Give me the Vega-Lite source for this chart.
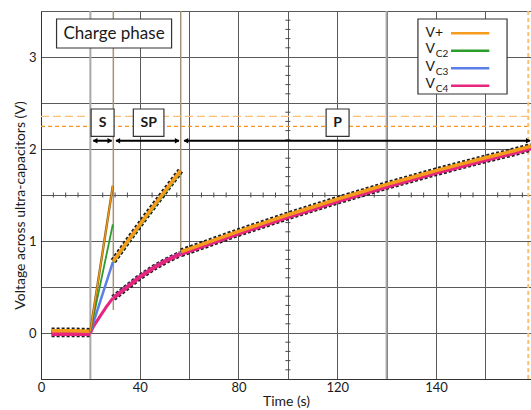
{
  "$schema": "https://vega.github.io/schema/vega-lite/v6.json",
  "width": 490,
  "height": 368,
  "autosize": {"type": "none"},
  "padding": {"left": 41, "top": 11, "right": 0, "bottom": 31},
  "background": "white",
  "config": {
    "view": {"stroke": null},
    "font": "Lato",
    "axis": {
      "labelFont": "Lato", "labelFontSize": 13, "labelColor": "#1a1a1a",
      "titleFont": "Lato", "titleFontSize": 14, "titleFontWeight": "normal", "titleColor": "#1a1a1a",
      "ticks": false, "domainColor": "#333333", "gridColor": "#5a5a5a", "gridOpacity": 1, "gridWidth": 1,
      "labelOverlap": false, "labelFlush": false
    }
  },
  "datasets": {
    "trace": [
      {"s": "V+", "ph": "pre", "t": 4.3, "v": 0.025}, {"s": "V+", "ph": "pre", "t": 12, "v": 0.025}, {"s": "V+", "ph": "pre", "t": 20, "v": 0.02},
      {"s": "VC2", "ph": "pre", "t": 4.3, "v": 0.015}, {"s": "VC2", "ph": "pre", "t": 20, "v": 0.012},
      {"s": "VC3", "ph": "pre", "t": 4.3, "v": 0.005}, {"s": "VC3", "ph": "pre", "t": 20, "v": 0.005},
      {"s": "VC4", "ph": "pre", "t": 4.3, "v": -0.012}, {"s": "VC4", "ph": "pre", "t": 12, "v": -0.012}, {"s": "VC4", "ph": "pre", "t": 20, "v": -0.01},

      {"s": "V+", "ph": "S", "t": 20, "v": 0.02}, {"s": "V+", "ph": "S", "t": 29.1, "v": 1.6},
      {"s": "VC2", "ph": "S", "t": 20, "v": 0.015}, {"s": "VC2", "ph": "S", "t": 29.1, "v": 1.18},
      {"s": "VC3", "ph": "S", "t": 20, "v": 0.01}, {"s": "VC3", "ph": "S", "t": 29.1, "v": 0.77},
      {"s": "VC4", "ph": "S", "t": 20, "v": 0.0}, {"s": "VC4", "ph": "S", "t": 21.2, "v": 0.07}, {"s": "VC4", "ph": "S", "t": 23.9, "v": 0.18}, {"s": "VC4", "ph": "S", "t": 26.6, "v": 0.29}, {"s": "VC4", "ph": "S", "t": 29.1, "v": 0.38},

      {"s": "V+", "ph": "SP", "t": 29.3, "v": 0.78}, {"s": "V+", "ph": "SP", "t": 35, "v": 0.995}, {"s": "V+", "ph": "SP", "t": 42.8, "v": 1.28}, {"s": "V+", "ph": "SP", "t": 50, "v": 1.535}, {"s": "V+", "ph": "SP", "t": 56.5, "v": 1.765},
      {"s": "VC2", "ph": "SP", "t": 29.3, "v": 0.77}, {"s": "VC2", "ph": "SP", "t": 35, "v": 0.98}, {"s": "VC2", "ph": "SP", "t": 42.8, "v": 1.265}, {"s": "VC2", "ph": "SP", "t": 50, "v": 1.52}, {"s": "VC2", "ph": "SP", "t": 56.5, "v": 1.75},
      {"s": "VC3", "ph": "SP", "t": 29.3, "v": 0.39}, {"s": "VC3", "ph": "SP", "t": 33.3, "v": 0.475}, {"s": "VC3", "ph": "SP", "t": 40.1, "v": 0.62}, {"s": "VC3", "ph": "SP", "t": 46, "v": 0.725}, {"s": "VC3", "ph": "SP", "t": 51, "v": 0.8}, {"s": "VC3", "ph": "SP", "t": 56.5, "v": 0.87},
      {"s": "VC4", "ph": "SP", "t": 29.3, "v": 0.38}, {"s": "VC4", "ph": "SP", "t": 33.3, "v": 0.465}, {"s": "VC4", "ph": "SP", "t": 40.1, "v": 0.61}, {"s": "VC4", "ph": "SP", "t": 46, "v": 0.715}, {"s": "VC4", "ph": "SP", "t": 51, "v": 0.79}, {"s": "VC4", "ph": "SP", "t": 56.5, "v": 0.86},

      {"s": "V+", "ph": "P", "t": 56.8, "v": 0.885}, {"s": "V+", "ph": "P", "t": 60, "v": 0.915}, {"s": "V+", "ph": "P", "t": 70, "v": 1.01}, {"s": "V+", "ph": "P", "t": 80, "v": 1.105}, {"s": "V+", "ph": "P", "t": 90, "v": 1.195}, {"s": "V+", "ph": "P", "t": 100, "v": 1.285}, {"s": "V+", "ph": "P", "t": 110, "v": 1.37}, {"s": "V+", "ph": "P", "t": 120, "v": 1.455}, {"s": "V+", "ph": "P", "t": 130, "v": 1.535}, {"s": "V+", "ph": "P", "t": 140, "v": 1.615}, {"s": "V+", "ph": "P", "t": 150, "v": 1.69}, {"s": "V+", "ph": "P", "t": 160, "v": 1.765}, {"s": "V+", "ph": "P", "t": 170, "v": 1.835}, {"s": "V+", "ph": "P", "t": 180, "v": 1.905}, {"s": "V+", "ph": "P", "t": 190, "v": 1.97}, {"s": "V+", "ph": "P", "t": 198.5, "v": 2.03},
      {"s": "VC2", "ph": "P", "t": 56.8, "v": 0.875}, {"s": "VC2", "ph": "P", "t": 80, "v": 1.095}, {"s": "VC2", "ph": "P", "t": 100, "v": 1.275}, {"s": "VC2", "ph": "P", "t": 120, "v": 1.445}, {"s": "VC2", "ph": "P", "t": 140, "v": 1.605}, {"s": "VC2", "ph": "P", "t": 160, "v": 1.755}, {"s": "VC2", "ph": "P", "t": 180, "v": 1.895}, {"s": "VC2", "ph": "P", "t": 198.5, "v": 2.02},
      {"s": "VC3", "ph": "P", "t": 56.8, "v": 0.87}, {"s": "VC3", "ph": "P", "t": 80, "v": 1.09}, {"s": "VC3", "ph": "P", "t": 100, "v": 1.27}, {"s": "VC3", "ph": "P", "t": 120, "v": 1.44}, {"s": "VC3", "ph": "P", "t": 140, "v": 1.6}, {"s": "VC3", "ph": "P", "t": 160, "v": 1.75}, {"s": "VC3", "ph": "P", "t": 180, "v": 1.89}, {"s": "VC3", "ph": "P", "t": 198.5, "v": 2.015},
      {"s": "VC4", "ph": "P", "t": 56.8, "v": 0.86}, {"s": "VC4", "ph": "P", "t": 60, "v": 0.89}, {"s": "VC4", "ph": "P", "t": 70, "v": 0.985}, {"s": "VC4", "ph": "P", "t": 80, "v": 1.08}, {"s": "VC4", "ph": "P", "t": 90, "v": 1.17}, {"s": "VC4", "ph": "P", "t": 100, "v": 1.26}, {"s": "VC4", "ph": "P", "t": 110, "v": 1.345}, {"s": "VC4", "ph": "P", "t": 120, "v": 1.43}, {"s": "VC4", "ph": "P", "t": 130, "v": 1.51}, {"s": "VC4", "ph": "P", "t": 140, "v": 1.59}, {"s": "VC4", "ph": "P", "t": 150, "v": 1.665}, {"s": "VC4", "ph": "P", "t": 160, "v": 1.74}, {"s": "VC4", "ph": "P", "t": 170, "v": 1.81}, {"s": "VC4", "ph": "P", "t": 180, "v": 1.88}, {"s": "VC4", "ph": "P", "t": 190, "v": 1.945}, {"s": "VC4", "ph": "P", "t": 198.5, "v": 2.005}
    ],
    "vrules": [
      {"k": "gray", "t": 20, "v": -0.5, "v2": 3.5},
      {"k": "gray", "t": 140, "v": -0.5, "v2": 3.5},
      {"k": "brown", "t": 29.3, "v": 0.25, "v2": 3.5},
      {"k": "brown", "t": 56.6, "v": 0.87, "v2": 3.5}
    ],
    "hdash": [
      {"k": "light", "t": 0, "t2": 198.5, "v": 2.355},
      {"k": "dark", "t": 0, "t2": 198.5, "v": 2.247}
    ],
    "vdash": [{"t": 197.4, "v": -0.5, "v2": 3.5}],
    "xticks": [
      {"t": 5, "v": 1.5}, {"t": 10, "v": 1.5}, {"t": 15, "v": 1.5}, {"t": 25, "v": 1.5}, {"t": 30, "v": 1.5}, {"t": 35, "v": 1.5},
      {"t": 45, "v": 1.5}, {"t": 50, "v": 1.5}, {"t": 55, "v": 1.5}, {"t": 65, "v": 1.5}, {"t": 70, "v": 1.5}, {"t": 75, "v": 1.5},
      {"t": 85, "v": 1.5}, {"t": 90, "v": 1.5}, {"t": 95, "v": 1.5}, {"t": 105, "v": 1.5}, {"t": 110, "v": 1.5}, {"t": 115, "v": 1.5},
      {"t": 125, "v": 1.5}, {"t": 130, "v": 1.5}, {"t": 135, "v": 1.5}, {"t": 145, "v": 1.5}, {"t": 150, "v": 1.5}, {"t": 155, "v": 1.5},
      {"t": 165, "v": 1.5}, {"t": 170, "v": 1.5}, {"t": 175, "v": 1.5}, {"t": 185, "v": 1.5}, {"t": 190, "v": 1.5}, {"t": 195, "v": 1.5}
    ],
    "yticks": [
      {"t": 100, "v": -0.4}, {"t": 100, "v": -0.3}, {"t": 100, "v": -0.2}, {"t": 100, "v": -0.1},
      {"t": 100, "v": 0.1}, {"t": 100, "v": 0.2}, {"t": 100, "v": 0.3}, {"t": 100, "v": 0.4},
      {"t": 100, "v": 0.6}, {"t": 100, "v": 0.7}, {"t": 100, "v": 0.8}, {"t": 100, "v": 0.9},
      {"t": 100, "v": 1.1}, {"t": 100, "v": 1.2}, {"t": 100, "v": 1.3}, {"t": 100, "v": 1.4},
      {"t": 100, "v": 1.6}, {"t": 100, "v": 1.7}, {"t": 100, "v": 1.8}, {"t": 100, "v": 1.9},
      {"t": 100, "v": 2.1}, {"t": 100, "v": 2.2}, {"t": 100, "v": 2.3}, {"t": 100, "v": 2.4},
      {"t": 100, "v": 2.6}, {"t": 100, "v": 2.7}, {"t": 100, "v": 2.8}, {"t": 100, "v": 2.9},
      {"t": 100, "v": 3.1}, {"t": 100, "v": 3.2}, {"t": 100, "v": 3.3}, {"t": 100, "v": 3.4}
    ],
    "boxes": [
      {"id": "title", "t": 6.3, "t2": 52.9, "v": 3.413, "v2": 3.098},
      {"id": "S", "t": 20.3, "t2": 29.6, "v": 2.435, "v2": 2.138},
      {"id": "SP", "t": 37.4, "t2": 49.8, "v": 2.435, "v2": 2.138},
      {"id": "P", "t": 115.5, "t2": 124.8, "v": 2.435, "v2": 2.138},
      {"id": "legend", "t": 152.7, "t2": 188.8, "v": 3.413, "v2": 2.598}
    ],
    "phaselabels": [
      {"txt": "S", "t": 24.95, "v": 2.287},
      {"txt": "SP", "t": 43.6, "v": 2.287},
      {"txt": "P", "t": 120.15, "v": 2.287}
    ],
    "titlebox": [{"txt": "Charge phase", "t": 29.6, "v": 3.255}],
    "arrows": [
      {"t": 21.2, "t2": 28.6, "v": 2.09},
      {"t": 30.4, "t2": 55.9, "v": 2.09},
      {"t": 58.0, "t2": 198, "v": 2.09}
    ],
    "heads": [
      {"dir": "l", "t": 21.9, "v": 2.09}, {"dir": "r", "t": 27.9, "v": 2.09},
      {"dir": "l", "t": 31.1, "v": 2.09}, {"dir": "r", "t": 55.2, "v": 2.09},
      {"dir": "l", "t": 58.7, "v": 2.09}, {"dir": "r", "t": 197.4, "v": 2.09}
    ],
    "legendlines": [
      {"s": "V+", "t": 166.1, "t2": 181.6, "v": 3.258},
      {"s": "VC2", "t": 166.1, "t2": 181.6, "v": 3.068},
      {"s": "VC3", "t": 166.1, "t2": 181.6, "v": 2.877},
      {"s": "VC4", "t": 166.1, "t2": 181.6, "v": 2.688}
    ],
    "legendmain": [
      {"txt": "V+", "t": 155.8, "v": 3.265},
      {"txt": "V", "t": 155.8, "v": 3.087},
      {"txt": "V", "t": 155.8, "v": 2.895},
      {"txt": "V", "t": 155.8, "v": 2.707}
    ],
    "legendsub": [
      {"txt": "C2", "t": 159.9, "v": 3.029},
      {"txt": "C3", "t": 159.9, "v": 2.837},
      {"txt": "C4", "t": 159.9, "v": 2.647}
    ]
  },
  "encoding": {
    "x": {
      "field": "t", "type": "quantitative",
      "scale": {"domain": [0, 198.5], "nice": false, "zero": false},
      "axis": {
        "title": "Time (s)",
        "values": [0, 20, 40, 60, 80, 100, 120, 140, 160, 180],
        "labelExpr": "datum.value % 40 === 0 ? (datum.value === 160 ? '140' : format(datum.value, 'd')) : ''",
        "labelPadding": 2, "titlePadding": 0, "grid": true
      }
    },
    "y": {
      "field": "v", "type": "quantitative",
      "scale": {"domain": [-0.5, 3.5], "nice": false, "zero": false},
      "axis": {
        "title": "Voltage across ultra-capacitors (V)",
        "values": [-0.5, 0, 0.5, 1, 1.5, 2, 2.5, 3, 3.5],
        "labelExpr": "datum.value % 1 === 0 ? format(datum.value, 'd') : ''",
        "labelPadding": 5, "titlePadding": 1, "titleY": 194, "grid": true
      }
    }
  },
  "layer": [
    {
      "data": {"name": "vrules"},
      "transform": [{"filter": "datum.k === 'gray'"}],
      "mark": {"type": "rule", "color": "#a8a8a8", "strokeWidth": 2},
      "encoding": {"y2": {"field": "v2"}}
    },
    {
      "data": {"name": "vrules"},
      "transform": [{"filter": "datum.k === 'brown'"}],
      "mark": {"type": "rule", "color": "#a39478", "strokeWidth": 1.5},
      "encoding": {"y2": {"field": "v2"}}
    },
    {
      "data": {"name": "xticks"},
      "mark": {"type": "tick", "orient": "vertical", "size": 5, "thickness": 1, "color": "#4a4a4a", "opacity": 1},
      "encoding": {}
    },
    {
      "data": {"name": "yticks"},
      "mark": {"type": "tick", "orient": "horizontal", "size": 5, "thickness": 1, "color": "#4a4a4a", "opacity": 1},
      "encoding": {}
    },
    {
      "data": {"name": "hdash"},
      "transform": [{"filter": "datum.k === 'light'"}],
      "mark": {"type": "rule", "color": "#fbbf78", "strokeWidth": 1.3, "strokeDash": [8, 4]},
      "encoding": {"x2": {"field": "t2"}}
    },
    {
      "data": {"name": "hdash"},
      "transform": [{"filter": "datum.k === 'dark'"}],
      "mark": {"type": "rule", "color": "#f7941d", "strokeWidth": 1.3, "strokeDash": [4, 3]},
      "encoding": {"x2": {"field": "t2"}}
    },
    {
      "data": {"name": "vdash"},
      "mark": {"type": "rule", "color": "#fbbf78", "strokeWidth": 2, "strokeDash": [4, 3]},
      "encoding": {"y2": {"field": "v2"}}
    },
    {
      "data": {"name": "trace"},
      "transform": [{"filter": "datum.ph !== 'S' && (datum.s === 'V+' || datum.s === 'VC4')"}],
      "mark": {"type": "line", "color": "#1c1c1c", "strokeWidth": 6.5, "strokeDash": [3, 2], "clip": true},
      "encoding": {"detail": [{"field": "s"}, {"field": "ph"}]}
    },
    {
      "data": {"name": "trace"},
      "transform": [{"filter": "datum.ph !== 'S' && (datum.s === 'VC2' || datum.s === 'VC3')"}],
      "mark": {"type": "line", "strokeWidth": 2.5, "clip": true},
      "encoding": {
        "detail": [{"field": "s"}, {"field": "ph"}],
        "color": {"field": "s", "type": "nominal", "scale": {"domain": ["V+", "VC2", "VC3", "VC4"], "range": ["#f59b1b", "#2a9d2a", "#5b7fe6", "#e6267e"]}, "legend": null}
      }
    },
    {
      "data": {"name": "trace"},
      "transform": [{"filter": "datum.ph !== 'S' && datum.s === 'VC4'"}],
      "mark": {"type": "line", "strokeWidth": 4, "clip": true},
      "encoding": {
        "detail": [{"field": "s"}, {"field": "ph"}],
        "color": {"field": "s", "type": "nominal", "scale": {"domain": ["V+", "VC2", "VC3", "VC4"], "range": ["#f59b1b", "#2a9d2a", "#5b7fe6", "#e6267e"]}, "legend": null}
      }
    },
    {
      "data": {"name": "trace"},
      "transform": [{"filter": "datum.ph !== 'S' && datum.s === 'V+'"}],
      "mark": {"type": "line", "strokeWidth": 3.5, "clip": true},
      "encoding": {
        "detail": [{"field": "s"}, {"field": "ph"}],
        "color": {"field": "s", "type": "nominal", "scale": {"domain": ["V+", "VC2", "VC3", "VC4"], "range": ["#f59b1b", "#2a9d2a", "#5b7fe6", "#e6267e"]}, "legend": null}
      }
    },
    {
      "data": {"name": "trace"},
      "transform": [{"filter": "datum.ph === 'S' && datum.s === 'VC4'"}],
      "mark": {"type": "line", "strokeWidth": 3, "color": "#e6267e"},
      "encoding": {}
    },
    {
      "data": {"name": "trace"},
      "transform": [{"filter": "datum.ph === 'S' && datum.s === 'VC3'"}],
      "mark": {"type": "line", "strokeWidth": 2.5, "color": "#5b7fe6"},
      "encoding": {}
    },
    {
      "data": {"name": "trace"},
      "transform": [{"filter": "datum.ph === 'S' && datum.s === 'VC2'"}],
      "mark": {"type": "line", "strokeWidth": 1.8, "color": "#2a9d2a"},
      "encoding": {}
    },
    {
      "data": {"name": "trace"},
      "transform": [{"filter": "datum.ph === 'S' && datum.s === 'V+'"}],
      "mark": {"type": "line", "strokeWidth": 2.4, "color": "#8a5a10"},
      "encoding": {}
    },
    {
      "data": {"name": "trace"},
      "transform": [{"filter": "datum.ph === 'S' && datum.s === 'V+'"}],
      "mark": {"type": "line", "strokeWidth": 1.2, "color": "#f59b1b"},
      "encoding": {}
    },
    {
      "data": {"name": "arrows"},
      "mark": {"type": "rule", "color": "#000000", "strokeWidth": 2},
      "encoding": {"x2": {"field": "t2"}}
    },
    {
      "data": {"name": "heads"},
      "mark": {"type": "point", "filled": true, "color": "#000000", "size": 30, "opacity": 1},
      "encoding": {
        "shape": {"field": "dir", "type": "nominal", "scale": {"domain": ["l", "r"], "range": ["triangle-left", "triangle-right"]}, "legend": null}
      }
    },
    {
      "data": {"name": "boxes"},
      "mark": {"type": "rect", "fill": "#ffffff", "stroke": "#333333", "strokeWidth": 1.2},
      "encoding": {"x2": {"field": "t2"}, "y2": {"field": "v2"}}
    },
    {
      "data": {"name": "titlebox"},
      "mark": {"type": "text", "font": "Lato", "fontSize": 17, "color": "#1a1a1a", "align": "center", "baseline": "middle"},
      "encoding": {"text": {"field": "txt"}}
    },
    {
      "data": {"name": "phaselabels"},
      "mark": {"type": "text", "font": "Lato", "fontSize": 14, "fontWeight": "bold", "color": "#1a1a1a", "align": "center", "baseline": "middle"},
      "encoding": {"text": {"field": "txt"}}
    },
    {
      "data": {"name": "legendlines"},
      "mark": {"type": "rule", "strokeWidth": 2.5},
      "encoding": {
        "x2": {"field": "t2"},
        "color": {"field": "s", "type": "nominal", "scale": {"domain": ["V+", "VC2", "VC3", "VC4"], "range": ["#f59b1b", "#2a9d2a", "#5b7fe6", "#e6267e"]}, "legend": null}
      }
    },
    {
      "data": {"name": "legendmain"},
      "mark": {"type": "text", "font": "Lato", "fontSize": 14, "color": "#1a1a1a", "align": "left", "baseline": "middle"},
      "encoding": {"text": {"field": "txt"}}
    },
    {
      "data": {"name": "legendsub"},
      "mark": {"type": "text", "font": "Lato", "fontSize": 10, "color": "#1a1a1a", "align": "left", "baseline": "middle"},
      "encoding": {"text": {"field": "txt"}}
    }
  ]
}
